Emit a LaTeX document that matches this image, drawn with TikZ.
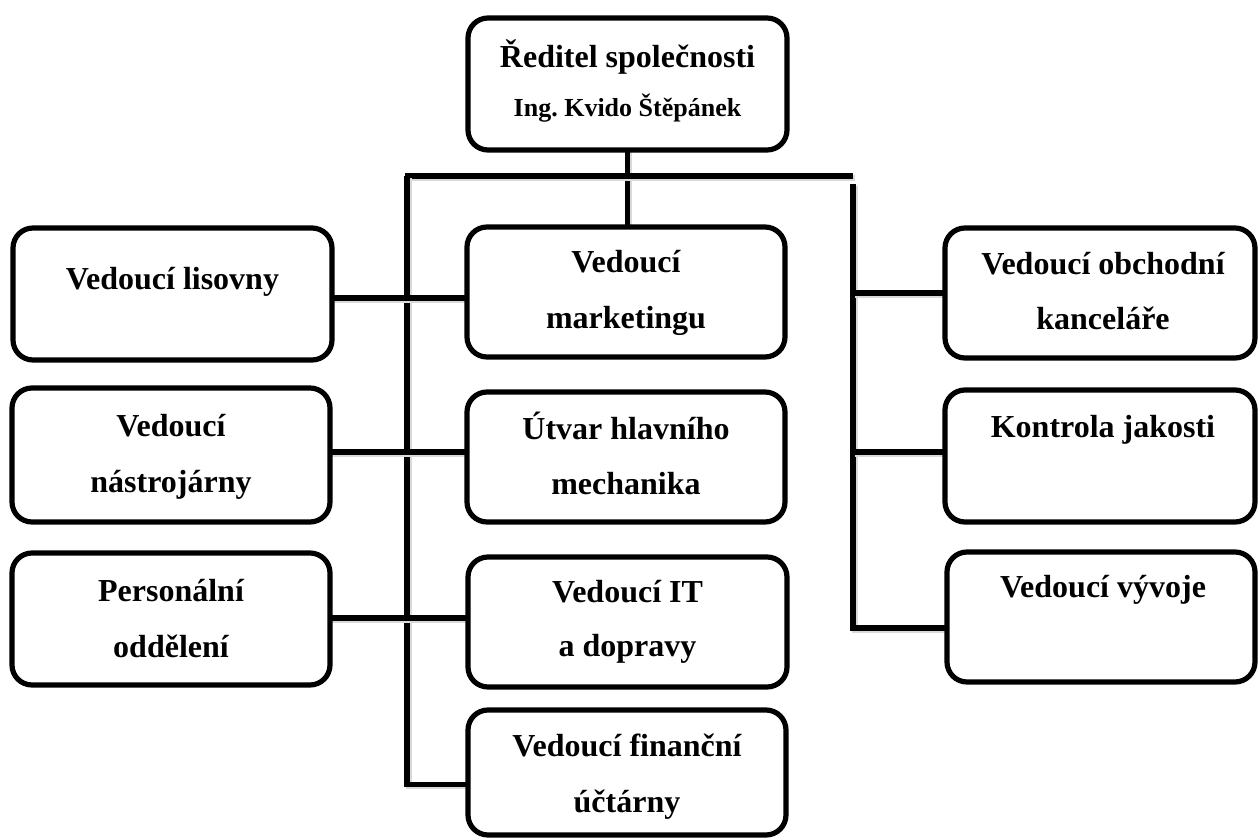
\documentclass[tikz,border=0pt]{standalone}
\usepackage{fontspec}
\setmainfont{Liberation Serif}
\usetikzlibrary{fit,backgrounds}
\frenchspacing

\begin{document}
\begin{tikzpicture}[x=0.5pt, y=-0.5pt,
  box/.style={draw=black, line width=2.6pt, rounded corners=10pt, fill=white, inner sep=0pt, outer sep=0pt},
  lbl/.style={anchor=base, inner sep=0pt, font=\fontsize{16}{19}\selectfont\bfseries},
  lblsmall/.style={anchor=base, inner sep=0pt, font=\fontsize{13}{16}\selectfont\bfseries},
  wire/.style={line width=2.6pt, line cap=butt,
    preaction={draw=black!15, line width=2.8pt, transform canvas={xshift=1pt, yshift=-1pt}}}]
\useasboundingbox (0,0) rectangle (1259,838);

% junction points of the tree
\coordinate (busL) at (407,176);
\coordinate (busR) at (853,176);
\coordinate (busRtop) at (853,184);

% boxes
\node[box, fit={(468,18) (787,150)}]   (ceo)  {};
\node[box, fit={(13,228) (332,360)}]   (lis)  {};
\node[box, fit={(12,388) (330,522)}]   (nas)  {};
\node[box, fit={(12,553) (330,685)}]   (per)  {};
\node[box, fit={(467,227) (785,357)}]  (mar)  {};
\node[box, fit={(467,392) (785,522)}]  (mech) {};
\node[box, fit={(468,557) (787,687)}]  (it)   {};
\node[box, fit={(468,710) (786,835)}]  (fin)  {};
\node[box, fit={(945,228) (1255,358)}] (obch) {};
\node[box, fit={(945,390) (1255,522)}] (kon)  {};
\node[box, fit={(947,552) (1255,682)}] (vyv)  {};

% tree lines behind the boxes
\begin{scope}[on background layer]
\draw[wire] (ceo.south) -- (ceo.south |- mar.north);
\draw[wire] ([xshift=-1pt]busL) -- (busR);
\draw[wire] (busL) |- ([yshift=-6pt]fin.west);
\draw[wire] (busRtop) |- ([yshift=-5.5pt]vyv.west);
\draw[wire] ([yshift=-2pt]lis.east) -- ([yshift=-3pt]mar.west);
\draw[wire] ([yshift=1.5pt]nas.east) -- ([yshift=2.5pt]mech.west);
\draw[wire] ([yshift=0.5pt]per.east) -- ([yshift=2pt]it.west);
\draw[wire] (busR |- obch.west) -- (obch.west);
\draw[wire] ([yshift=2pt]busR |- kon.west) -- ([yshift=2pt]kon.west);
\end{scope}

% labels
\node[lbl]      (ceo1)  at (627.5,68)  {Ředitel společnosti};
\node[lblsmall] (ceo2)  at (627.5,117) {Ing. Kvido Štěpánek};
\node[lbl]      (lis1)  at (172.5,290) {Vedoucí lisovny};
\node[lbl]      (nas1)  at (171,437)   {Vedoucí};
\node[lbl]      (nas2)  at (171,493)   {nástrojárny};
\node[lbl]      (per1)  at (171,602)   {Personální};
\node[lbl]      (per2)  at (171,658)   {oddělení};
\node[lbl]      (mar1)  at (626,273)   {Vedoucí};
\node[lbl]      (mar2)  at (626,329)   {marketingu};
\node[lbl]      (mech1) at (626,440)   {Útvar hlavního};
\node[lbl]      (mech2) at (626,495)   {mechanika};
\node[lbl]      (it1)   at (627.5,603) {Vedoucí IT};
\node[lbl]      (it2)   at (627.5,657) {a dopravy};
\node[lbl]      (fin1)  at (627,757)   {Vedoucí finanční};
\node[lbl]      (fin2)  at (627,813)   {účtárny};
\node[lbl]      (obch1) at (1103,275)  {Vedoucí obchodní};
\node[lbl]      (obch2) at (1103,330)  {kanceláře};
\node[lbl]      (kon1)  at (1103,438)  {Kontrola jakosti};
\node[lbl]      (vyv1)  at (1103,598)  {Vedoucí vývoje};
\end{tikzpicture}
\end{document}
